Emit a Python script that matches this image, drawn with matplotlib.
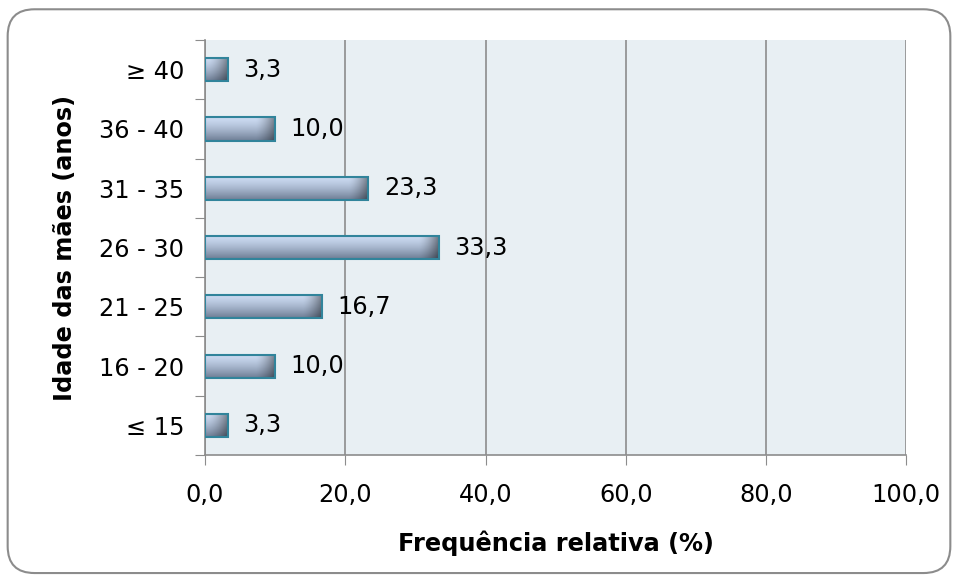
import numpy as np
import matplotlib.pyplot as plt
from matplotlib.patches import FancyBboxPatch, Rectangle

categorias = ["≤ 15", "16 - 20", "21 - 25", "26 - 30", "31 - 35", "36 - 40", "≥ 40"]
frequencias = [3.3, 10.0, 16.7, 33.3, 23.3, 10.0, 3.3]
xticks = [0, 20, 40, 60, 80, 100]

plt.rcParams['font.family'] = ['DejaVu Sans Condensed']
FS = 17.3

fig = plt.figure(figsize=(9.58, 5.8), dpi=100)
ax = fig.add_axes([0.214, 0.2155, 0.732, 0.7155])

# moldura arredondada em volta da figura
frame = FancyBboxPatch((0.008, 0.012), 0.984, 0.972, boxstyle="round,pad=0,rounding_size=0.028",
                       transform=fig.transFigure, facecolor='none', edgecolor='#8c8c8c',
                       linewidth=1.5, mutation_aspect=958 / 580)
fig.patches.append(frame)

ax.set_facecolor('#e8eff3')
ax.set_xlim(0, 100)
ax.set_ylim(-0.5, len(categorias) - 0.5)

# gradiente das barras: claro em cima, escuro em baixo, escurecendo na ponta direita
ny, nx = 40, 300
v = np.linspace(0, 1, ny)[:, None]
top = np.array([0.80, 0.86, 0.95])
bottom = np.array([0.43, 0.49, 0.58])
h = 0.39
for i, val in enumerate(frequencias):
    xs = np.linspace(0, 1, nx)[None, :]
    edge_frac = min(20.0 / (val * 7.01), 0.9)
    dark = np.clip((xs - (1 - edge_frac)) / edge_frac, 0, 1) ** 1.5 * 0.45
    col = top[None, None, :] * (1 - v[..., None] ** 1.4) + bottom[None, None, :] * v[..., None] ** 1.4
    col = col * (1 - dark[..., None])
    im = ax.imshow(col, extent=(0, val, i - h / 2, i + h / 2), origin='upper',
                   aspect='auto', zorder=3, interpolation='bilinear')
    rect = Rectangle((0, i - h / 2), val, h, facecolor='none', edgecolor='#31849b',
                     linewidth=1.5, zorder=4)
    ax.add_patch(rect)
    im.set_clip_path(rect)
    ax.text(val + 2.2, i, f"{val:.1f}".replace('.', ','), va='center', ha='left',
            fontsize=FS, zorder=5)

ax.set_aspect('auto')
ax.set_xticks(xticks)
ax.set_xticklabels([f"{t:.1f}".replace('.', ',') for t in xticks], fontsize=FS)
ax.set_yticks(np.arange(-0.5, len(categorias), 1), minor=False)
ax.set_yticklabels([])
ax.set_yticks(range(len(categorias)), minor=True)
ax.set_yticklabels(categorias, minor=True, fontsize=FS)
ax.tick_params(axis='y', which='minor', length=0, pad=15)
ax.tick_params(axis='y', which='major', length=7, color='#8c8c8c', direction='out')
ax.tick_params(axis='x', length=7, color='#8c8c8c', pad=13)

ax.grid(axis='x', color='#8c8c8c', linewidth=1.2, zorder=1)
ax.set_axisbelow(True)
for s in ['top', 'right']:
    ax.spines[s].set_visible(False)
for s in ['left', 'bottom']:
    ax.spines[s].set_color('#8c8c8c')
    ax.spines[s].set_linewidth(1.2)

ax.set_xlabel('Frequência relativa (%)', fontsize=FS, fontweight='bold', labelpad=17,
              family='DejaVu Sans')
ax.set_ylabel('Idade das mães (anos)', fontsize=FS, fontweight='bold', labelpad=16,
              family='DejaVu Sans')

fig.savefig('out.png', dpi=100)
